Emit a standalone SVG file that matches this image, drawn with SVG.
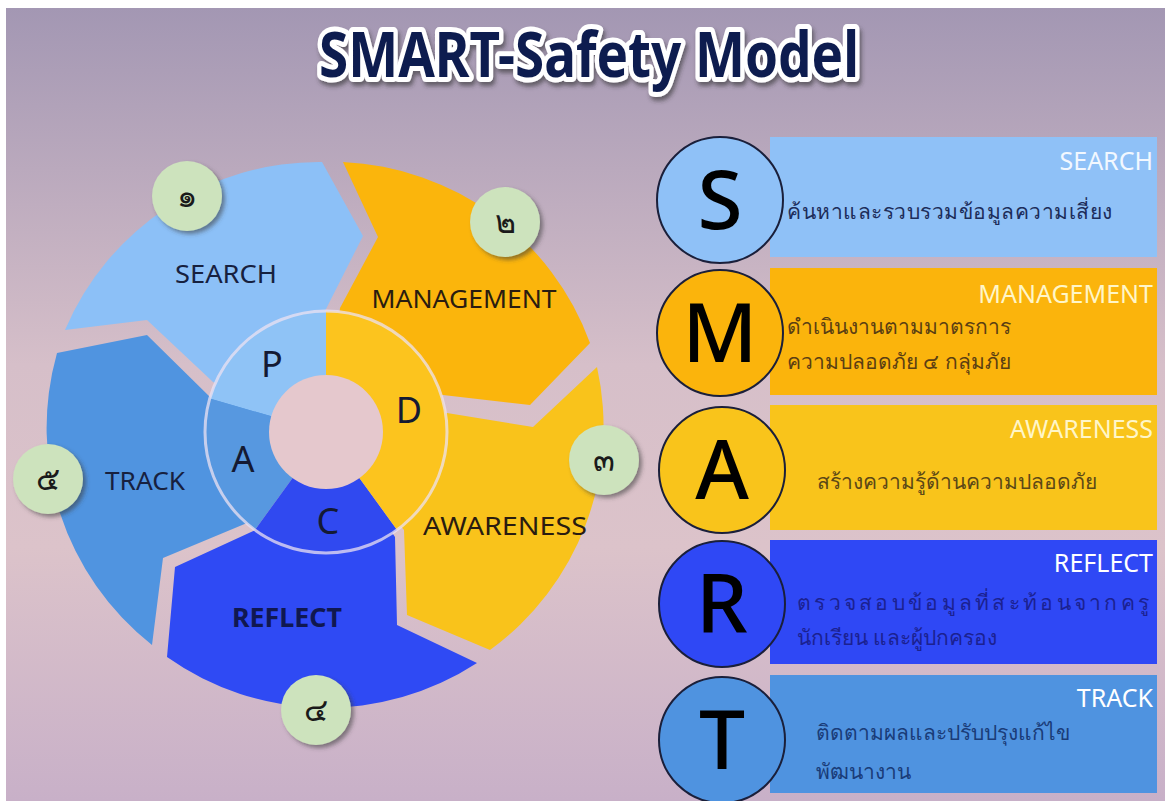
<svg xmlns="http://www.w3.org/2000/svg" width="1165" height="801" viewBox="0 0 1165 801">
<defs>
<linearGradient id="bg" x1="0" y1="0" x2="0" y2="1">
<stop offset="0" stop-color="#a397b3"/>
<stop offset="0.45" stop-color="#d6bfc9"/>
<stop offset="0.68" stop-color="#dcc3ca"/>
<stop offset="1" stop-color="#c8b0c8"/>
</linearGradient>
<filter id="sh" x="-30%" y="-30%" width="160%" height="160%">
<feDropShadow dx="3" dy="3" stdDeviation="2" flood-color="#3a3a3a" flood-opacity="0.55"/>
</filter>
<filter id="tsh" x="-10%" y="-30%" width="120%" height="160%">
<feDropShadow dx="2" dy="4" stdDeviation="2" flood-color="#333" flood-opacity="0.6"/>
</filter>
<style>
.lbl{font-family:"Noto Sans","DejaVu Sans",sans-serif;font-size:26px;fill:#17213f;text-anchor:middle}
.pdca{font-family:"Noto Sans","DejaVu Sans",sans-serif;font-size:36px;fill:#141a33;text-anchor:middle}
.num{fill:#cde3bd;filter:url(#sh)}
.numt{font-family:"Noto Sans","DejaVu Sans",sans-serif;font-size:32px;fill:#1a1a1a;text-anchor:middle}
.big{font-family:"Noto Sans","DejaVu Sans",sans-serif;font-size:82px;font-weight:500;fill:#000;text-anchor:middle}
.ring{stroke:#1a1f3a;stroke-width:2}
.head{font-family:"Noto Sans","DejaVu Sans",sans-serif;font-size:25px;text-anchor:end}
.th{font-family:"Noto Sans","DejaVu Sans",sans-serif;font-size:21px}
</style>
</defs>
<rect width="1165" height="801" fill="#ffffff"/>
<rect x="6" y="8" width="1159" height="793" fill="url(#bg)"/>

<g id="title" filter="url(#tsh)">
<text x="589" y="77" text-anchor="middle" font-family="'Noto Sans','DejaVu Sans',sans-serif" font-size="62" font-weight="700" fill="#0f1d4f" stroke="#ffffff" stroke-width="10" stroke-linejoin="round" paint-order="stroke" textLength="540" lengthAdjust="spacingAndGlyphs">SMART-Safety Model</text>
</g>

<g id="search">
<path d="M213,382 L147,320 L65,330 A276,276 0 0 1 322,162 L363,236 L325,311 L326,432 Z" fill="#8cc0f7"/>
<text class="lbl" x="226" y="283" textLength="102" lengthAdjust="spacingAndGlyphs">SEARCH</text>
</g>
<g id="management">
<path d="M343,162 A276,276 0 0 1 590,343 L530,405 L443,395 L326,432 L340,308 L378,237 Z" fill="#fbb50c"/>
<text class="lbl" x="464" y="308" textLength="185" lengthAdjust="spacingAndGlyphs" style="fill:#2a1c10">MANAGEMENT</text>
</g>
<g id="awareness">
<path d="M447,413 L533,427 L597,367 A276,276 0 0 1 490,650 L407,615 L404,530 L326,432 Z" fill="#f9c31b"/>
<text class="lbl" x="505" y="535" textLength="164" lengthAdjust="spacingAndGlyphs" style="fill:#2a1c10">AWARENESS</text>
</g>
<g id="reflect">
<path d="M395,537 L397,625 L477,663 A276,276 0 0 1 167,657 L175,567 L260,528 L326,432 Z" fill="#2f4af4"/>
<text class="lbl" x="287" y="627" font-weight="700" textLength="110" lengthAdjust="spacingAndGlyphs" style="fill:#101850">REFLECT</text>
</g>
<g id="track">
<path d="M247,523 L163,558 L152,645 A276,276 0 0 1 57,353 L147,335 L210,397 L326,432 Z" fill="#5094e0"/>
<text class="lbl" x="145" y="490" textLength="80" lengthAdjust="spacingAndGlyphs">TRACK</text>
</g>

<g id="pdca">
<path d="M326,432 L326,311 A121,121 0 0 0 209.7,398.6 Z" fill="#8fc3f6"/>
<path d="M326,432 L209.7,398.6 A121,121 0 0 0 254.9,529.9 Z" fill="#5798e0"/>
<path d="M326,432 L254.9,529.9 A121,121 0 0 0 397.1,529.9 Z" fill="#3049f0"/>
<path d="M326,432 L397.1,529.9 A121,121 0 0 0 326,311 Z" fill="#fcc41e"/>
<circle cx="326" cy="432" r="121" fill="none" stroke="#ece2f2" stroke-opacity="0.75" stroke-width="3"/>
<circle cx="326" cy="432" r="57" fill="#e5c8cd"/>
<text class="pdca" x="272" y="377">P</text>
<text class="pdca" x="409" y="423">D</text>
<text class="pdca" x="328" y="534">C</text>
<text class="pdca" x="243" y="472">A</text>
</g>

<g id="n1"><circle class="num" cx="187" cy="196" r="35"/><text class="numt" x="187" y="207">๑</text></g>
<g id="n2"><circle class="num" cx="505" cy="222" r="35"/><text class="numt" x="505" y="233">๒</text></g>
<g id="n3"><circle class="num" cx="604" cy="460" r="35"/><text class="numt" x="604" y="471">๓</text></g>
<g id="n4"><circle class="num" cx="316" cy="710" r="35"/><text class="numt" x="316" y="721">๔</text></g>
<g id="n5"><circle class="num" cx="48" cy="479" r="35"/><text class="numt" x="48" y="490">๕</text></g>

<g id="bar-s">
<rect x="770" y="137" width="387" height="120" fill="#8fc1f7"/>
<circle class="ring" cx="720" cy="200" r="63" fill="#8fc1f7"/>
<text class="big" x="720" y="229">S</text>
<text class="head" x="1153" y="170" fill="#f2f8ff">SEARCH</text>
<text class="th" x="787" y="219" fill="#1d2d5a" textLength="325" lengthAdjust="spacing">ค้นหาและรวบรวมข้อมูลความเสี่ยง</text>
</g>
<g id="bar-m">
<rect x="770" y="268" width="387" height="127" fill="#fbb40c"/>
<circle class="ring" cx="720" cy="333" r="63" fill="#fbb40c"/>
<text class="big" x="720" y="362">M</text>
<text class="head" x="1153" y="303" fill="#fff6c8">MANAGEMENT</text>
<text class="th" x="787" y="334" fill="#5b3f13">ดำเนินงานตามมาตรการ</text>
<text class="th" x="787" y="369" fill="#5b3f13">ความปลอดภัย ๔ กลุ่มภัย</text>
</g>
<g id="bar-a">
<rect x="770" y="405" width="387" height="125" fill="#f9c41b"/>
<circle class="ring" cx="722" cy="470" r="63" fill="#f9c41b"/>
<text class="big" x="722" y="499">A</text>
<text class="head" x="1153" y="438" fill="#fff6c8">AWARENESS</text>
<text class="th" x="817" y="489" fill="#5c4817">สร้างความรู้ด้านความปลอดภัย</text>
</g>
<g id="bar-r">
<rect x="770" y="540" width="387" height="124" fill="#2f48f5"/>
<circle class="ring" cx="722" cy="604" r="63" fill="#2f48f5"/>
<text class="big" x="722" y="633">R</text>
<text class="head" x="1153" y="572" fill="#ffffff">REFLECT</text>
<text class="th" x="797" y="610" fill="#1b2190" textLength="352" lengthAdjust="spacing">ตรวจสอบข้อมูลที่สะท้อนจากครู</text>
<text class="th" x="797" y="645" fill="#1b2190">นักเรียน และผู้ปกครอง</text>
</g>
<g id="bar-t">
<rect x="770" y="675" width="387" height="118" fill="#4f93e0"/>
<circle class="ring" cx="722" cy="740" r="63" fill="#4f93e0"/>
<text class="big" x="722" y="769">T</text>
<text class="head" x="1153" y="707" fill="#ffffff">TRACK</text>
<text class="th" x="816" y="740" fill="#1a3c78">ติดตามผลและปรับปรุงแก้ไข</text>
<text class="th" x="816" y="779" fill="#1a3c78">พัฒนางาน</text>
</g>
</svg>
